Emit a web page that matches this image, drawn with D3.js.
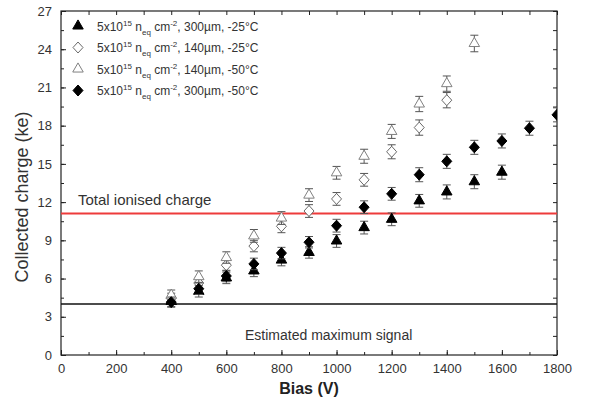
<!DOCTYPE html>
<html>
<head>
<meta charset="utf-8">
<script src="https://cdn.jsdelivr.net/npm/d3@7"></script>
<style>
  body { margin: 0; background: #fff; }
  svg text { font-family: "Liberation Sans", Arial, sans-serif; }
</style>
</head>
<body>
<div class="container"></div>
<script>
// data, bias in V, charge in ke
let bias = [400, 500, 600, 700, 800, 900, 1000, 1100, 1200, 1300, 1400, 1500, 1600, 1700, 1800];

let thick25 = [4.2, 5.0, 6.05, 6.6, 7.45, 8.05, 8.95, 10.0, 10.65, 12.1, 12.8, 13.6, 14.35];
let thick25Err = [0.4, 0.45, 0.45, 0.45, 0.45, 0.45, 0.5, 0.5, 0.5, 0.5, 0.55, 0.55, 0.55];

let thin25 = [4.45, 5.65, 7.05, 8.55, 10.1, 11.3, 12.25, 13.75, 15.95, 17.85, 20.0];
let thin25Err = [0.4, 0.45, 0.45, 0.45, 0.5, 0.5, 0.5, 0.5, 0.55, 0.6, 0.6];

let thin50 = [4.7, 6.15, 7.65, 9.35, 10.75, 12.55, 14.3, 15.6, 17.55, 19.7, 21.3, 24.45];
let thin50Err = [0.4, 0.45, 0.45, 0.5, 0.5, 0.5, 0.5, 0.55, 0.55, 0.6, 0.6, 0.65];

let thick50 = [4.15, 5.2, 6.2, 7.15, 8.0, 8.85, 10.15, 11.6, 12.65, 14.15, 15.2, 16.3, 16.8, 17.8, 18.85];
let thick50Err = [0.4, 0.45, 0.45, 0.45, 0.45, 0.45, 0.5, 0.5, 0.5, 0.55, 0.55, 0.55, 0.55, 0.55, 0.55];

let totalCharge = 11.1;
let maxSignal = 4.0;

let xTicks = [0, 200, 400, 600, 800, 1000, 1200, 1400, 1600, 1800];
let yTicks = [0, 3, 6, 9, 12, 15, 18, 21, 24, 27];

let series = [
    {name: ["300µm, -25°C"], vals: thick25, err: thick25Err, shape: "triangle", fill: "#000", stroke: "#000"},
    {name: ["140µm, -25°C"], vals: thin25, err: thin25Err, shape: "diamond", fill: "#fff", stroke: "#6a6a6a"},
    {name: ["140µm, -50°C"], vals: thin50, err: thin50Err, shape: "triangle", fill: "#fff", stroke: "#808080"},
    {name: ["300µm, -50°C"], vals: thick50, err: thick50Err, shape: "diamond", fill: "#000", stroke: "#000"}
];

let margin = {top: 11, right: 36, bottom: 48, left: 61};
let width = 593 - margin.left - margin.right;
let height = 403 - margin.top - margin.bottom;

let svg = d3.select(".container")
    .append("svg")
    .attr("width", 593)
    .attr("height", 403)
    .append("g")
    .attr("transform", "translate(" + margin.left + "," + margin.top + ")");

let x = d3.scaleLinear().domain([0, 1800]).range([0, width]);
let y = d3.scaleLinear().domain([0, 27]).range([height, 0]);

// clip for the marks at the frame edge
svg.append("clipPath").attr("id", "clip")
    .append("rect").attr("width", width).attr("height", height);

// axes, ticks pointing inward on all four sides
const styleAxis = (g) => {
    g.select(".domain").remove();
    g.selectAll("line").attr("stroke", "#222");
    g.selectAll("text").attr("fill", "#333").style("font-size", "13px");
};

let xMinor = d3.range(0, 1801, 100);
let yMinor = d3.range(0, 27.01, 1.5);

svg.append("g")
    .attr("transform", "translate(0," + height + ")")
    .call(d3.axisBottom(x).tickValues(xMinor).tickSize(-3).tickFormat(""))
    .call(styleAxis);
svg.append("g")
    .attr("transform", "translate(0," + height + ")")
    .call(d3.axisBottom(x).tickValues(xTicks).tickSize(-5).tickPadding(9).tickFormat(d3.format("d")))
    .call(styleAxis);
svg.append("g")
    .call(d3.axisTop(x).tickValues(xMinor).tickSize(-4).tickFormat(""))
    .call(styleAxis);

svg.append("g")
    .call(d3.axisLeft(y).tickValues(yMinor).tickSize(-3).tickFormat(""))
    .call(styleAxis);
svg.append("g")
    .call(d3.axisLeft(y).tickValues(yTicks).tickSize(-5).tickPadding(9).tickFormat(d3.format("d")))
    .call(styleAxis);
svg.append("g")
    .attr("transform", "translate(" + width + ",0)")
    .call(d3.axisRight(y).tickValues(yMinor).tickSize(-4).tickFormat(""))
    .call(styleAxis);

svg.append("rect")
    .attr("width", width)
    .attr("height", height)
    .attr("fill", "none")
    .attr("stroke", "#222")
    .attr("stroke-width", 1.2);

// reference lines
svg.append("line")
    .attr("x1", 0).attr("x2", width)
    .attr("y1", y(totalCharge)).attr("y2", y(totalCharge))
    .attr("stroke", "#ee3b3b").attr("stroke-width", 2);
svg.append("line")
    .attr("x1", 0).attr("x2", width)
    .attr("y1", y(maxSignal)).attr("y2", y(maxSignal))
    .attr("stroke", "#111").attr("stroke-width", 1.5);

svg.append("text")
    .attr("x", 17).attr("y", 194)
    .attr("fill", "#333")
    .style("font-size", "15px")
    .text("Total ionised charge");
svg.append("text")
    .attr("x", 184).attr("y", 329)
    .attr("fill", "#333")
    .style("font-size", "14px")
    .text("Estimated maximum signal");

// axis titles
svg.append("text")
    .attr("transform", "translate(-33," + (height / 2 + 14) + ") rotate(-90)")
    .attr("text-anchor", "middle")
    .attr("fill", "#333")
    .style("font-size", "18px")
    .text("Collected charge (ke)");
svg.append("text")
    .attr("x", width / 2).attr("y", height + 39)
    .attr("text-anchor", "middle")
    .attr("fill", "#222")
    .style("font-size", "16px")
    .style("font-weight", "bold")
    .text("Bias (V)");

const symbol = (shape) => {
    if (shape == "triangle") return d3.symbol().type(d3.symbolTriangle).size(48)();
    return "M0,-5.5L5,0L0,5.5L-5,0Z";
};

let plot = svg.append("g").attr("clip-path", "url(#clip)");

series.forEach(s => {
    let pts = s.vals.map((v, i) => ({b: bias[i], v: v, e: s.err[i]}));
    let g = plot.append("g");

    // error bars
    let eb = g.selectAll(".err")
        .data(pts)
        .enter()
        .append("g")
        .attr("stroke", "#555")
        .attr("stroke-width", 1);
    eb.append("line")
        .attr("x1", d => x(d.b)).attr("x2", d => x(d.b))
        .attr("y1", d => y(d.v - d.e)).attr("y2", d => y(d.v + d.e));
    eb.append("line")
        .attr("x1", d => x(d.b) - 4).attr("x2", d => x(d.b) + 4)
        .attr("y1", d => y(d.v - d.e)).attr("y2", d => y(d.v - d.e));
    eb.append("line")
        .attr("x1", d => x(d.b) - 4).attr("x2", d => x(d.b) + 4)
        .attr("y1", d => y(d.v + d.e)).attr("y2", d => y(d.v + d.e));

    g.selectAll(".pt")
        .data(pts)
        .enter()
        .append("path")
        .attr("d", symbol(s.shape))
        .attr("transform", d => "translate(" + x(d.b) + "," + y(d.v) + ")")
        .attr("fill", s.fill)
        .attr("stroke", s.stroke)
        .attr("stroke-width", 1);
});

// legend
let legend = svg.append("g").attr("transform", "translate(17,15)");
series.forEach((s, i) => {
    let row = legend.append("g").attr("transform", "translate(0," + (i * 21.5) + ")");
    row.append("path")
        .attr("d", symbol(s.shape))
        .attr("fill", s.fill)
        .attr("stroke", s.stroke);
    let t = row.append("text")
        .attr("x", 19).attr("y", 4.5)
        .attr("fill", "#333")
        .style("font-size", "12px");
    t.append("tspan").text("5x10");
    t.append("tspan").attr("dy", -5).style("font-size", "8px").text("15");
    t.append("tspan").attr("dy", 5).text(" n");
    t.append("tspan").attr("dy", 4).style("font-size", "8px").text("eq");
    t.append("tspan").attr("dy", -4).text(" cm");
    t.append("tspan").attr("dy", -5).style("font-size", "8px").text("-2");
    t.append("tspan").attr("dy", 5).text(", " + s.name[0]);
});
</script>
</body>
</html>
